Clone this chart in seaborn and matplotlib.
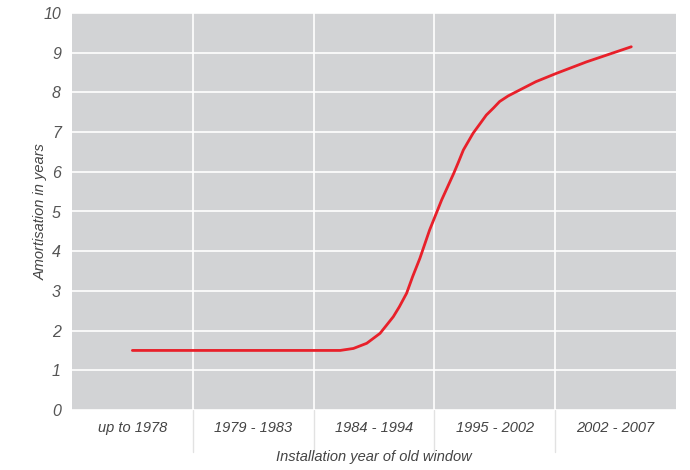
import numpy as np
import pandas as pd
import seaborn as sns
import matplotlib.pyplot as plt

# categories on the x axis
categories = ["up to 1978", "1979 - 1983", "1984 - 1994", "1995 - 2002", "2002 - 2007"]

# curve (position in category units, years)
curve_x = [0.0, 1.72, 1.83, 1.94, 2.05, 2.10, 2.16, 2.21, 2.27, 2.32, 2.38,
           2.46, 2.56, 2.66, 2.70, 2.74, 2.82, 2.88, 2.93, 2.99, 3.04,
           3.11, 3.18, 3.34, 3.51, 3.76, 4.13]
curve_y = [1.5, 1.5, 1.55, 1.68, 1.93, 2.12, 2.35, 2.60, 2.94, 3.36, 3.82,
           4.53, 5.29, 5.96, 6.25, 6.55, 6.97, 7.22, 7.43, 7.61, 7.77,
           7.91, 8.02, 8.27, 8.48, 8.77, 9.15]

df = pd.DataFrame({"pos": curve_x, "years": curve_y})

sns.set_theme(style="white")
plt.rcParams['font.family'] = ['Liberation Sans', 'DejaVu Sans']

fig = plt.figure(figsize=(6.9, 4.7), dpi=100)
ax = fig.add_axes([0.1043, 0.1277, 0.8754, 0.8446])
ax.set_facecolor("#d2d3d5")

sns.lineplot(data=df, x="pos", y="years", ax=ax, color="#e8202a",
             linewidth=2.0, sort=False)

ax.set_xlim(-0.5, 4.5)
ax.set_ylim(0, 10)
ax.set_yticks(range(0, 11))
ax.set_xticks(range(len(categories)))
ax.set_xticklabels(categories)
ax.set_xticks([0.5, 1.5, 2.5, 3.5], minor=True)

ax.grid(False)
ax.yaxis.grid(True, color="white", linewidth=1.2)
ax.xaxis.grid(True, which="minor", color="white", linewidth=1.2)
ax.set_axisbelow(True)
for s in ax.spines.values():
    s.set_visible(False)

ax.tick_params(axis="both", which="both", length=0)
ax.tick_params(axis="y", pad=8, labelsize=11.5, labelcolor="#555555")
ax.tick_params(axis="x", pad=8, labelsize=10.5, labelcolor="#444444")
for lab in ax.get_xticklabels() + ax.get_yticklabels():
    lab.set_fontstyle("italic")

# separators between category labels below the plot
for b in [0.5, 1.5, 2.5, 3.5]:
    ax.plot([b, b], [0, -1.07], color="#e2e2e2", linewidth=1.0, clip_on=False,
            zorder=0)

ax.set_xlabel("Installation year of old window", fontstyle="italic",
              fontsize=10.5, color="#444444", labelpad=11)
ax.set_ylabel("Amortisation in years", fontstyle="italic",
              fontsize=10.5, color="#444444", labelpad=-3)

fig.savefig("out.png", dpi=100)
